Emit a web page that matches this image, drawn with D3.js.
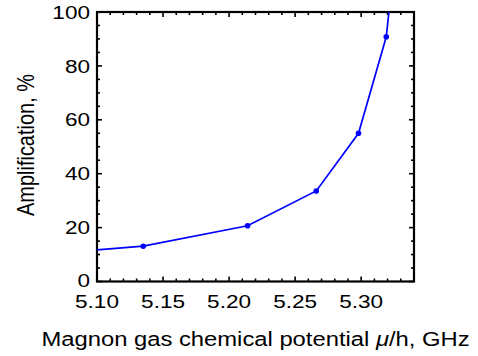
<!DOCTYPE html>
<html><head><meta charset="utf-8">
<script src="https://cdn.jsdelivr.net/npm/d3@7"></script>
<style>
html,body{margin:0;padding:0;background:#fff;}
text{font-family:"Liberation Sans",Arial,sans-serif;fill:#000;}
</style></head>
<body><svg id="c" width="478" height="356"></svg>
<script>
// Data
const pointX = [5.135, 5.214, 5.266, 5.298, 5.319];
const pointY = [13.1, 20.7, 33.6, 55.0, 90.8];
const lineStart = [5.10, 11.7];
const lineEnd = [5.321, 100];
const xTicks = [5.10, 5.15, 5.20, 5.25, 5.30];
const yTicks = [0, 20, 40, 60, 80, 100];
const xLabel = "Magnon gas chemical potential ";
const yLabel = "Amplification, %";

const svg = d3.select("#c");
const L = 97, R = 414, T = 12, B = 281.5;
const SX = 1.22; // horizontal text stretch of the reference
const x = d3.scaleLinear().domain([5.10, 5.34]).range([L, R]);
const y = d3.scaleLinear().domain([0, 100]).range([B, T]);

const xMinor = d3.range(5.10, 5.3401, 0.01).map(v => +v.toFixed(2));
const yMinor = d3.range(0, 100.1, 5);

const ax = svg.append("g");
function tickLen(isMajor){ return isMajor ? 5 : 3; }
xMinor.forEach(v => {
  const maj = xTicks.some(t => Math.abs(t - v) < 1e-6);
  const px = x(v), l = tickLen(maj);
  ax.append("line").attr("x1", px).attr("x2", px).attr("y1", B).attr("y2", B - l);
  ax.append("line").attr("x1", px).attr("x2", px).attr("y1", T).attr("y2", T + l);
});
yMinor.forEach(v => {
  const maj = yTicks.includes(v);
  const py = y(v), l = tickLen(maj);
  ax.append("line").attr("x1", L).attr("x2", L + l).attr("y1", py).attr("y2", py);
  ax.append("line").attr("x1", R).attr("x2", R - l).attr("y1", py).attr("y2", py);
});
ax.selectAll("line").attr("stroke", "#000").attr("stroke-width", 1.6);
ax.append("rect").attr("x", L).attr("y", T).attr("width", R - L).attr("height", B - T)
  .attr("fill", "none").attr("stroke", "#000").attr("stroke-width", 2.2);

// tick labels
svg.append("g").selectAll("text").data(yTicks).join("text")
  .attr("transform", d => `translate(90,${y(d)}) scale(${SX},1)`)
  .attr("text-anchor", "end").attr("dy", d => d === 0 ? "0.3em" : "0.36em")
  .attr("font-size", 18.5).text(d => d);
svg.append("g").selectAll("text").data(xTicks).join("text")
  .attr("transform", d => `translate(${x(d)},308) scale(${SX},1)`)
  .attr("text-anchor", "middle")
  .attr("font-size", 18.5).text(d => d.toFixed(2));

// axis titles
const xt = svg.append("text")
  .attr("transform", `translate(${(L + R) / 2},346) scale(1.19,1)`)
  .attr("text-anchor", "middle").attr("font-size", 20);
xt.append("tspan").text(xLabel);
xt.append("tspan").attr("font-style", "italic").text("\u03bc");
xt.append("tspan").text("/h, GHz");

svg.append("text")
  .attr("transform", `translate(34,145) scale(1.2,1) rotate(-90)`)
  .attr("text-anchor", "middle").attr("font-size", 20).text(yLabel);

// line + markers
const linePts = [lineStart].concat(pointX.map((v, i) => [v, pointY[i]])).concat([lineEnd]);
svg.append("path").datum(linePts)
  .attr("d", d3.line().x(d => x(d[0])).y(d => y(d[1])))
  .attr("fill", "none").attr("stroke", "#0000ff").attr("stroke-width", 1.7);
svg.append("g").selectAll("circle").data(pointX).join("circle")
  .attr("cx", d => x(d)).attr("cy", (d, i) => y(pointY[i])).attr("r", 2.8)
  .attr("fill", "#0000ff");
</script></body></html>
